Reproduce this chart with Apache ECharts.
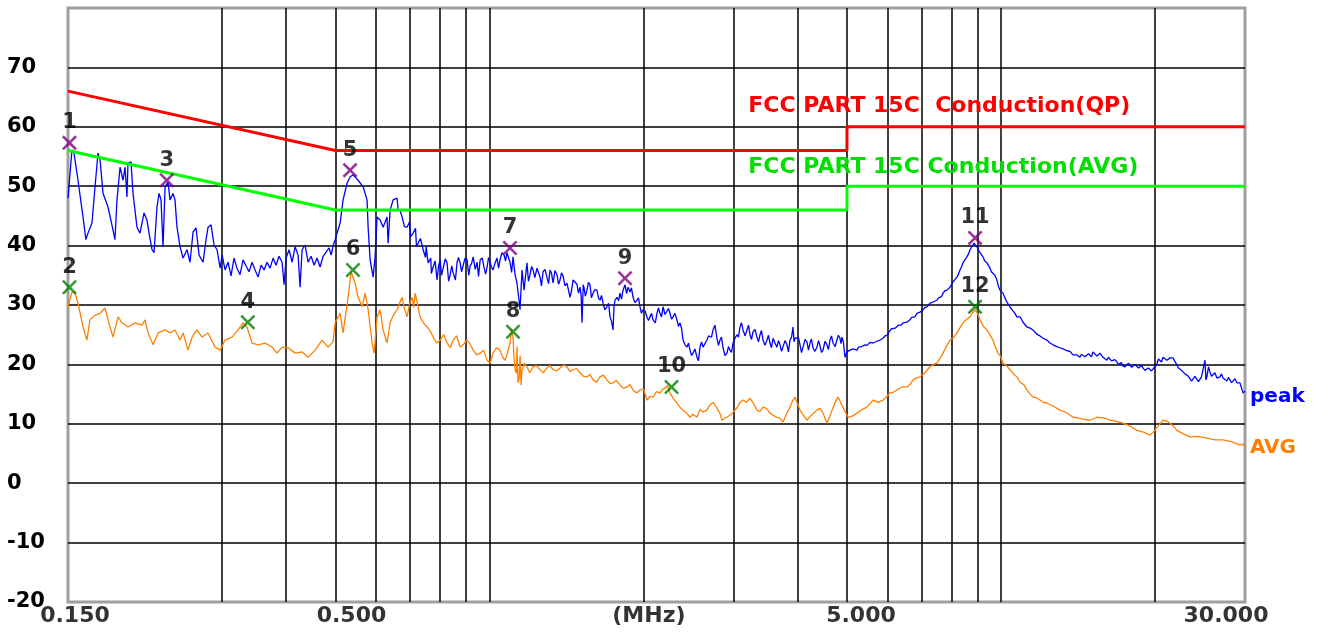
<!DOCTYPE html>
<html><head><meta charset="utf-8">
<script src="https://cdn.jsdelivr.net/npm/echarts@6/dist/echarts.min.js"></script>
<style>html,body{margin:0;padding:0;background:#fff}#c{width:1319px;height:637px}</style>
</head><body><div id="c"></div>
<script>
// ---- data (frequency in MHz, level in dBuV) ----
const peakReadA = [
[0.150,48.0],[0.1527,56.1],[0.1541,55.6],[0.1569,51.0],[0.1605,44.8],[0.1626,41.0],[0.1641,42.1],[0.1671,43.8],
[0.1694,49.9],[0.1717,55.6],[0.1733,54.4],[0.1756,48.8],[0.1796,46.5],[0.1837,42.6],[0.1853,41.0],[0.1870,47.7],
[0.1896,53.2],[0.1922,51.0],[0.1939,53.2],[0.1956,48.2],[0.1965,53.9],[0.1992,54.1],[0.2010,48.8],[0.2046,43.1],
[0.2074,42.1],[0.2112,45.5],[0.2140,44.3],[0.2160,42.1],[0.2190,39.3],[0.2210,38.8],[0.2239,46.5],[0.2260,48.8],
[0.2280,47.7],[0.2301,39.8],[0.2322,49.9],[0.2353,50.7],[0.2374,47.7],[0.2407,48.8],[0.2428,47.7],[0.2450,43.1],
[0.2484,39.8],[0.2518,37.9],[0.2563,39.3],[0.2598,37.2],[0.2634,42.3],[0.2669,43.0],[0.2706,38.4],[0.2755,37.2],
[0.2792,41.0],[0.2818,43.1],[0.2856,43.5],[0.2895,40.1],[0.2934,39.3],[0.2975,36.2],[0.3002,38.4],[0.3042,35.9],
[0.3083,37.2],[0.3125,34.9],[0.3167,37.9],[0.3209,36.2],[0.3254,35.1],[0.3299,37.6],[0.3342,36.6],[0.3389,35.6],
[0.3435,37.2],[0.3482,35.9],[0.3529,34.7],[0.3577,36.7],[0.3626,35.9],[0.3674,37.2],[0.3725,36.2],[0.3776,37.9],
[0.3826,36.7],[0.3879,38.2],[0.3932,37.2],[0.3968,33.4],[0.4003,37.9],[0.4058,39.3],[0.4114,37.2],[0.4169,39.8],
[0.4226,38.4],[0.4264,33.0],[0.4303,39.3],[0.4361,40.1],[0.4421,37.2],[0.4481,38.2],[0.4542,36.7],[0.4602,37.9],
[0.4666,36.4],[0.4729,38.2],[0.4792,38.9],[0.4859,39.6],[0.4903,38.4],[0.4947,39.9],[0.4992,41.0],[0.5035,41.0],
[0.5106,43.8],[0.5175,47.7],[0.5267,50.5],[0.5341,51.6],[0.5414,51.9],[0.5537,51.0],[0.5663,49.9],[0.5764,47.7],
[0.5792,43.1],[0.5844,37.6],[0.5924,34.7],[0.5977,38.1],[0.6030,44.8],[0.6114,44.3],[0.6197,43.1],[0.6307,44.8],
[0.6338,40.4],[0.6395,46.0],[0.6482,47.7],[0.6598,48.0],[0.6630,46.0],[0.6751,44.8],[0.6902,43.1],[0.7094,42.1],
[0.7255,40.4],[0.7420,39.3],[0.7589,37.1],[0.7762,36.4],[0.7900,34.2],[0.8010,37.6],[0.8120,36.2],[0.8264,37.1],
[0.8380,35.1],[0.8494,35.4],[0.8645,37.2],[0.8765,37.1],[0.8885,35.9],[0.9043,37.6],[0.9169,36.6],[0.9294,38.1],
[0.9460,37.2],[0.9592,37.6],[0.9766,36.2],[0.9896,36.4],[1.0027,37.2],[1.0163,35.9],[1.0348,37.9],[1.0489,37.6],
[1.068,38.4],[1.0821,38.8],[1.0971,37.2],[1.1121,38.1],[1.1221,35.1],[1.1319,33.7],[1.1425,30.8],[1.1476,29.2],
[1.1581,35.9],[1.1686,32.5],[1.1840,37.1],[1.2005,35.1],[1.2169,35.9],[1.2386,36.2],[1.2558,34.7],[1.2730,35.6],
[1.2956,34.7],[1.3136,35.9],[1.3316,33.7],[1.3553,35.1],[1.3741,34.2],[1.3928,34.9],[1.4176,33.7],[1.4373,31.3],
[1.4570,34.2],[1.4829,33.5],[1.5035,33.0],[1.5172,27.0],[1.5309,32.9],[1.5512,32.5],[1.5727,33.4],[1.5942,32.0],
[1.6226,32.5],[1.6452,30.8],[1.6677,30.3],[1.6973,29.7],[1.7208,28.0],[1.7444,25.8],[1.7601,30.8],[1.7754,31.3],
[1.8001,32.0],[1.8247,32.5],[1.8411,33.4],[1.8662,33.0],[1.8830,32.2],[1.9087,31.3],[1.9427,30.8],[1.9697,29.7],
[1.9966,29.2],[2.0321,28.0],[2.0604,28.0],[2.0886,27.5],[2.1257,28.6],[2.1552,28.6],[2.1847,29.7],[2.2236,28.6],
[2.2544,28.6],[2.2852,28.0],[2.3259,27.5],[2.3582,27.0],[2.3905,24.1],[2.4330,22.9],[2.4668,22.4],[2.5005,21.9],
[2.5450,21.2],[2.5803,22.9],[2.6156,22.9],[2.6621,24.1],[2.6991,25.0],[2.7360,25.8],[2.7847,24.4],[2.8234,24.1],
[2.8620,22.8],[2.9129,21.9],[2.9533,22.4],[2.9937,23.6],[3.0470,25.0],[3.0894,26.3],[3.1316,25.8],[3.1873,25.8],
[3.2316,25.0],[3.2758,25.5],[3.3341,24.6],[3.3804,25.0],[3.4266,24.1],[3.4876,24.1],[3.5360,23.6],[3.5844,24.4],
[3.6482,22.9],[3.6988,23.3],[3.7494,22.4],[3.8161,23.3],[3.8691,24.1],[3.9220,26.3],[3.9573,24.4],[3.9918,24.1],
[4.0472,23.3],[4.1026,22.9],[4.1756,23.8],[4.2336,23.6],[4.2915,22.8],[4.3678,22.9],[4.4285,23.1],[4.4891,22.4],
[4.5690,23.3],[4.6323,24.1],[4.6957,23.6],[4.7792,24.1],[4.8456,24.4],[4.8898,24.6],[4.9561,21.2],[4.999,22.1],
[5.0687,22.4],[5.1380,22.6],[5.2295,22.4],[5.3021,22.8],[5.3746,23.2],[5.4702,23.2],[5.5462,23.7],[5.6220,23.6],
[5.7221,23.9],[5.8015,24.1],[5.8809,24.4],[5.9855,24.9],[6.0686,25.6],[6.1516,25.9],[6.2611,26.3],[6.3480,26.6],
[6.4348,27.0],[6.5493,27.1],[6.6403,27.5],[6.7311,28.0],[6.8509,28.6],[6.9461,28.8],[7.0411,29.2],[7.1664,29.7],
[7.2658,30.3],[7.3652,30.5],[7.4962,30.8],[7.6004,31.3],[7.7043,32.0],[7.8414,32.5],[7.9503,33.0],[8.0591,33.9],
[8.2025,34.7],[8.3163,35.9],[8.4300,37.1],[8.5800,38.1],[8.6992,39.3],[8.8578,40.4],[8.9751,39.8],[9.0997,38.8],
[9.2241,38.1],[9.3883,37.1],[9.5187,36.2],[9.6489,35.4],[9.8206,34.2],[9.9571,32.5],[10.093,32.0],[10.273,30.5],
[10.415,29.7],[10.557,29.0],[10.745,28.0],[10.895,28.0],[11.044,27.1],[11.241,26.3],[11.397,26.1],[11.553,25.8],
[11.758,25.1],[11.921,24.8],[12.084,24.4],[12.299,24.1],[12.470,23.6],[12.641,23.3],[12.866,23.0],[13.044,22.8],
[13.223,22.6],[13.458,22.3],[13.645,22.2],[13.831,21.6],[14.077,21.6],[14.273,21.2],[14.469,21.6],[14.726,21.2],
[14.930,21.6],[15.134,22.1],[15.404,21.4],[15.617,21.9],[15.831,21.2],[16.113,20.7],[16.337,21.1],[16.560,20.7],
[16.855,20.4],[17.088,20.2],[17.322,19.7],[17.630,19.9],[17.875,20.1],[18.120,19.6],[18.442,19.9],[18.699,19.6],
[18.955,19.4],[19.292,19.1],[19.559,19.2],[19.827,19.1],[20.180,20.1],[20.460,20.7],[20.739,21.2],[21.108,20.7],
[21.402,21.1],[21.695,21.1],[22.081,19.9],[22.387,19.6],[22.693,18.7],[23.097,18.2],[23.418,17.7],[23.738,17.4],
[24.161,17.7],[24.495,17.4],[24.831,17.7],[25.054,20.7],[25.272,17.9],[25.624,18.7],[25.974,18.2],[26.436,17.7],
[26.803,17.9],[27.170,17.7],[27.653,17.2],[28.037,17.4],[28.421,17.2],[28.926,16.9],[29.328,16.9],[29.729,15.2],
[30.0,15.5]
];
// finer ripple of the peak sweep, read between the points above
const peakReadB = [
[0.6690,45.9],[0.6820,43.2],[0.6980,44.0],[0.7010,41.5],[0.7170,42.9],[0.7200,39.8],[0.7330,41.2],[0.7500,38.0],
[0.7520,39.9],[0.7680,37.9],[0.7700,35.3],[0.7830,37.4],[0.7950,36.5],[0.8060,35.0],[0.8200,37.8],[0.8320,34.0],
[0.8440,36.6],[0.8580,34.2],[0.8700,38.0],[0.8820,35.6],[0.8960,37.9],[0.9110,35.0],[0.9230,37.0],[0.9380,36.0],
[0.9520,34.8],[0.9680,37.9],[0.9830,35.2],[0.9960,38.0],[1.0090,36.4],[1.0250,37.0],[1.0420,36.2],[1.0580,38.8],
[1.0750,37.4],[1.0900,39.0],[1.1050,35.5],[1.1170,38.3],
[1.1920,34.0],[1.2090,36.5],[1.2270,34.6],[1.2470,36.3],[1.2640,33.2],[1.2840,36.0],[1.3050,33.6],[1.3220,35.4],
[1.3430,35.8],[1.3650,33.5],[1.3830,35.4],[1.4050,33.2],[1.4270,33.9],[1.4470,32.4],[1.4700,34.5],[1.4930,32.0],
[1.5110,31.6],[1.5250,33.4],[1.5400,31.5],[1.5620,33.8],[1.5830,31.2],[1.6080,32.6],[1.6340,31.2],[1.6560,31.6],
[1.6820,29.2],[1.7100,30.3],[1.7330,27.2],[1.7520,29.8],[1.7880,30.7],[1.8120,31.0],[1.8540,31.9],[1.8950,32.9],
[1.9250,30.4],[1.9560,31.2],[1.9820,28.6],[2.0150,29.0],[2.0460,27.4],[2.0750,28.6],[2.1100,27.0],[2.1400,29.5],
[2.1700,28.0],[2.2040,28.4],[2.2390,29.4],[2.2700,27.6],[2.3050,28.6],[2.3420,26.4],[2.3750,26.0],
[2.4120,23.3],[2.4500,23.6],[2.4840,21.5],[2.5220,22.6],[2.5620,20.6],[2.5980,23.8],[2.6380,23.2],[2.6800,24.8],
[2.7170,24.6],[2.7600,26.6],[2.8040,23.2],[2.8420,24.6],[2.8870,21.5],[2.9330,23.0],[2.9730,22.0],[3.0200,24.4],
[3.0680,24.6],[3.1100,27.0],[3.1600,24.8],[3.2100,26.6],[3.2540,24.2],[3.3050,25.9],[3.3570,23.8],[3.4030,25.7],
[3.4570,23.2],[3.5120,24.9],[3.5600,22.8],[3.6160,23.6],[3.6730,24.0],[3.7240,22.2],[3.7830,24.0],[3.8420,22.1],
[3.8960,24.6],[3.9400,23.8],[4.0200,24.5],[4.0750,22.0],[4.1400,24.2],[4.2050,22.4],[4.2600,24.3],[4.3300,22.2],
[4.4000,24.0],[4.4600,22.0],[4.5300,23.9],[4.6000,22.5],[4.6640,24.8],[4.7400,23.0],[4.8100,24.9],[4.8680,23.5],
[4.9200,23.8],
[5.1030,22.3],[5.1830,22.8],[5.2650,22.9],[5.3380,23.0],[5.4200,23.3],[5.5080,23.4],[5.5840,23.8],[5.6700,23.6],
[5.7600,24.0],[5.8400,24.2],[5.9300,24.8],[6.0300,25.4],[6.1100,26.0],[6.2100,26.1],[6.3000,26.6],[6.3900,26.6],
[6.4900,27.2],[6.5900,27.1],[6.6900,27.9],[6.7900,28.0],[6.9000,28.8],[6.9900,28.8],[7.1000,29.6],[7.2200,29.8],
[7.3100,30.5],[7.4300,30.5],[7.5500,31.2],[7.6500,31.4],[7.7700,32.4],[7.9000,32.6],[8.0000,33.4],[8.1300,34.0],
[8.2600,35.2],[8.3700,36.4],[8.5000,37.6],[8.6400,38.6],
[9.1600,38.6],[9.3000,37.4],[9.4500,36.9],[9.5800,35.6],[9.7300,35.0],[9.8900,33.1],
[10.020,32.3],[10.180,31.2],[10.340,30.2],[10.490,29.3],[10.650,28.6],[10.820,28.0],[10.970,27.6],[11.140,26.8],
[11.320,26.2],[11.480,25.9],[11.650,25.4],[11.840,25.0],[12.000,24.6],[12.190,24.2],[12.380,23.9],[12.550,23.4],
[12.750,23.1],[12.950,22.9],[13.130,22.5],[13.340,22.4],[13.550,22.5],[13.740,21.9],[13.950,21.9],[14.170,21.3],
[14.370,21.7],[14.600,21.3],[14.830,21.8],[15.030,21.3],[15.270,22.0],[15.510,21.3],[15.720,21.9],[15.970,21.0],
[16.220,21.2],[16.450,20.6],[16.700,20.8],[16.970,20.0],[17.200,20.3],[17.480,19.6],[17.750,20.2],[18.000,19.5],
[18.280,20.0],[18.570,19.4],[18.830,19.8],[19.120,19.0],[19.420,19.4],[19.690,18.9],[20.000,19.6],
[20.320,20.9],[20.600,20.4],[20.920,21.4],[21.250,20.8],[21.550,21.4],[21.880,20.5],[22.230,19.4],[22.540,19.0],
[22.900,18.4],[23.250,18.0],[23.580,17.2],[23.950,18.0],[24.330,17.1],[24.660,17.9],[25.160,17.4],[25.450,19.6],
[25.800,18.0],[26.200,18.6],[26.620,17.4],[26.990,18.4],[27.410,17.4],[27.840,17.8],[28.230,16.9],[28.670,17.6],
[29.130,16.6],[29.530,17.2]
];
const avgReadA = [
[0.150,29.7],[0.1527,32.2],[0.1548,32.0],[0.1569,30.3],[0.1605,26.3],[0.1633,24.1],[0.1656,27.5],[0.1694,28.3],
[0.1733,28.6],[0.1772,29.5],[0.1796,27.5],[0.1837,24.6],[0.1879,28.0],[0.1913,27.0],[0.1965,26.3],[0.2028,27.0],
[0.2093,26.6],[0.2122,27.5],[0.2151,25.3],[0.2200,23.3],[0.2250,25.3],[0.2322,25.8],[0.2374,25.3],[0.2428,25.8],
[0.2484,24.1],[0.2518,25.3],[0.2575,22.4],[0.2622,24.6],[0.2681,25.8],[0.2743,24.6],[0.2818,25.3],[0.2908,22.9],
[0.2975,22.4],[0.3042,24.1],[0.3139,24.6],[0.3225,25.8],[0.3299,27.0],[0.3357,26.3],[0.3435,23.6],[0.3529,23.3],
[0.3642,23.6],[0.3759,22.9],[0.3843,21.9],[0.3932,22.9],[0.4040,22.8],[0.4169,21.9],[0.4303,22.1],[0.4421,21.2],
[0.4562,22.4],[0.4708,24.1],[0.4837,22.9],[0.4947,23.8],[0.4992,27.0],[0.5106,28.6],[0.5175,25.3],[0.5293,31.3],
[0.5365,35.6],[0.5462,33.7],[0.5537,31.3],[0.5638,29.7],[0.5714,32.0],[0.5792,29.2],[0.5897,23.6],[0.5951,21.9],
[0.6030,28.0],[0.6114,29.2],[0.6197,25.8],[0.6307,23.6],[0.6395,27.0],[0.6598,29.2],[0.6751,31.3],[0.6902,28.0],
[0.7062,31.3],[0.7158,32.0],[0.7320,28.0],[0.7553,26.3],[0.7762,24.6],[0.8010,24.1],[0.8264,23.6],[0.8494,24.1],
[0.8765,22.9],[0.9043,24.1],[0.9294,22.4],[0.9592,21.9],[0.9896,20.7],[1.0163,21.9],[1.0489,22.4],[1.0728,20.7],
[1.0971,23.6],[1.1121,24.6],[1.1221,19.1],[1.1374,16.9],[1.1581,19.1],[1.1840,19.6],[1.2169,19.6],[1.2558,19.1],
[1.2956,19.4],[1.3316,19.1],[1.3741,19.4],[1.4176,19.6],[1.4570,19.1],[1.5035,18.6],[1.5512,17.9],[1.5942,17.4],
[1.6452,17.9],[1.6973,17.4],[1.7444,16.9],[1.8001,16.5],[1.8571,16.2],[1.9087,15.7],[1.9697,15.7],[2.0321,14.0],
[2.0886,14.5],[2.1552,15.2],[2.2044,16.0],[2.2544,15.2],[2.3259,13.5],[2.3905,12.3],[2.4668,11.1],[2.5450,11.1],
[2.6156,12.0],[2.6991,13.2],[2.7847,12.7],[2.8491,10.6],[2.9129,11.1],[3.0470,12.7],[3.1316,14.0],[3.2316,14.3],
[3.3341,12.3],[3.4266,12.8],[3.5360,11.8],[3.6482,11.1],[3.7494,10.3],[3.8691,12.8],[3.9573,14.5],[4.0472,12.3],
[4.1756,10.6],[4.3678,12.3],[4.4891,11.8],[4.5690,10.1],[4.6746,12.3],[4.8024,14.5],[4.9119,12.8],[5.0235,11.1],
[5.2295,11.8],[5.4702,12.8],[5.6220,14.0],[5.8809,14.0],[6.0686,15.2],[6.2611,15.7],[6.5493,16.2],[6.7311,17.4],
[6.9461,17.9],[7.2658,19.6],[7.4962,20.2],[7.7043,21.9],[7.9503,24.1],[8.2025,25.3],[8.4300,27.0],[8.6992,28.0],
[8.8958,29.2],[9.0997,27.5],[9.3883,25.8],[9.6489,24.1],[9.8683,21.9],[10.093,20.2],[10.415,19.1],[10.745,17.9],
[11.241,15.7],[11.553,14.5],[11.921,14.0],[12.299,13.5],[13.044,12.3],[13.831,11.1],[14.469,10.8],[15.404,11.1],
[16.337,10.6],[17.322,10.1],[18.442,8.9],[19.559,8.1],[20.180,9.4],[20.739,10.6],[21.402,10.1],[22.081,8.9],
[23.418,7.8],[25.272,7.6],[27.170,7.3],[29.328,6.4],[30.0,6.1]
];
// finer ripple of the average sweep
const avgReadB = [
[0.6250,26.0],[0.6500,28.4],[0.6680,30.4],[0.6820,29.4],[0.6980,30.2],[0.7110,29.6],[0.7240,30.0],[0.7430,27.0],
[0.7660,25.6],[0.7890,23.6],[0.8140,25.0],[0.8380,22.8],[0.8630,24.8],[0.8900,23.4],[0.9170,23.4],[0.9440,21.6],
[0.9740,22.4],[1.0030,20.2],[1.0320,22.8],[1.0610,21.2],[1.0850,22.0],[1.1050,26.0],[1.1170,21.0],[1.1290,18.5],
[1.1320,23.0],[1.1430,17.5],[1.1480,21.5],[1.1530,16.5],[1.1700,20.2],[1.1990,18.6],[1.2350,19.8],[1.2750,18.6],
[1.3130,19.8],[1.3520,18.9],[1.3960,19.9],[1.4380,18.8],[1.4800,19.3],[1.5270,18.0],[1.5730,18.3],[1.6200,17.0],
[1.6700,18.2],[1.7200,16.8],[1.7700,17.3],[1.8290,16.0],[1.8830,16.6],[1.9400,15.2],[2.0000,15.9],[2.0600,14.6],
[2.1200,15.4],[2.1800,15.8],[2.2300,16.4],[2.2900,14.2],[2.3580,12.8],[2.4300,11.8],[2.5000,11.6],[2.5800,12.4],
[2.6600,12.3],[2.7400,13.6],[2.8200,11.8],[2.8800,10.9],[2.9800,11.7],[3.0900,13.6],[3.1800,13.6],[3.2800,13.5],
[3.3800,12.1],[3.4800,12.6],[3.5900,11.4],[3.7000,10.9],[3.8100,11.7],[3.9100,13.8],[4.0000,13.4],[4.1100,11.4],
[4.2300,11.2],[4.4300,12.6],[4.5300,10.9],[4.6200,11.0],[4.7400,13.6],[4.8600,13.6],[4.9600,12.0],[5.1200,11.3],
[5.3500,12.4],[5.5500,13.4],[5.7500,13.6],[5.9800,14.6],[6.1600,15.3],[6.4000,16.2],[6.6400,16.6],[6.8300,17.7],
[7.1000,18.6],[7.3800,20.0],[7.6000,21.0],[7.8200,23.0],[8.0800,24.5],[8.3200,26.2],[8.5700,27.6],[8.8000,28.7],
[9.0000,28.6],[9.2400,26.4],[9.5100,25.0],[9.7600,22.8],[9.9800,21.4],[10.250,19.8],[10.580,18.4],[10.900,17.0],
[11.080,16.6],[11.400,15.0],[11.740,14.4],[12.100,13.6],[12.650,13.0],[13.430,11.9],[14.140,11.0],[14.900,10.6],
[15.900,11.0],[16.800,10.4],[17.900,9.6],[19.000,8.6],[19.850,8.6],[20.460,10.0],[21.060,10.5],[21.730,9.6],
[22.730,8.3],[24.300,7.9],[26.200,7.3],[28.200,7.0],[29.700,6.6]
];
const qpLimit  = [[0.15,66],[0.5,56],[5,56],[5,60],[30,60]];
const avgLimit = [[0.15,56],[0.5,46],[5,46],[5,50],[30,50]];
const peakMarkers = [[0.151,57.3,'1'],[0.234,51.0,'3'],[0.534,52.7,'5'],[1.097,39.6,'7'],[1.841,34.5,'9'],[8.90,41.3,'11']];
const avgMarkers  = [[0.151,33.0,'2'],[0.337,27.1,'4'],[0.541,35.9,'6'],[1.112,25.5,'8'],[2.27,16.2,'10'],[8.90,29.7,'12']];
const xGridValues = [0.3,0.4,0.5,0.6,0.7,0.8,0.9,1,2,3,4,5,6,7,8,9,10,20];
const xTickValues = [0.15, 0.5, 2.05, 5, 30];
const xTickLabels = ['0.150', '0.500', '(MHz)', '5.000', '30.000'];
const limitNames = ['FCC PART 15C  Conduction(QP)', 'FCC PART 15C Conduction(AVG)'];
const limitNameAnchors = [[3.20, 63.5], [3.20, 53.2]];

// ---- chart ----
const byFreq = (a, b) => a[0] - b[0];
const peakTrace = peakReadA.concat(peakReadB).sort(byFreq);
const avgTrace = avgReadA.concat(avgReadB).sort(byFreq);

const FONT = "'DejaVu Sans', 'Liberation Sans', sans-serif";
const chart = echarts.init(document.getElementById('c'), null, {renderer: 'canvas'});
const X_SYM = 'path://M0,12 L12,0 L50,38 L88,0 L100,12 L62,50 L100,88 L88,100 L50,62 L12,100 L0,88 L38,50 Z';
const xLabelShift = [7, 16, 0, 14, -19];

chart.setOption({
  animation: false,
  backgroundColor: '#ffffff',
  grid: {left: 68, top: 8, right: 74, bottom: 35, show: true, borderColor: '#a0a0a0', borderWidth: 3, backgroundColor: '#fff'},
  xAxis: {type: 'log', logBase: 10, min: 0.15, max: 30,
    axisLine: {show: false}, axisTick: {show: false}, axisLabel: {show: false}, splitLine: {show: false}, minorSplitLine:{show:false}},
  yAxis: {type: 'value', min: -20, max: 80, interval: 10,
    axisLine: {show: false}, axisTick: {show: false},
    axisLabel: {show: true, align: 'left', margin: 61, color: '#000', fontFamily: FONT, fontWeight: 'bold', fontSize: 21,
      padding: [0, 0, 5, 0], formatter: v => (v >= 80 ? '' : String(v))},
    splitLine: {show: true, showMinLine: false, showMaxLine: false, lineStyle: {color: '#000', width: 1.5}}},
  series: [
    {name: 'grid', type: 'line', data: [], silent: true,
      markLine: {silent: true, z: 1, symbol: 'none', label: {show: false},
        lineStyle: {color: '#000', width: 1.5, type: 'solid'},
        data: xGridValues.map(v => ({xAxis: v}))}},
    {name: 'AVG', type: 'line', data: avgTrace, showSymbol: false, symbol: 'none', z: 3,
      lineStyle: {color: '#ff8000', width: 1.3}, itemStyle: {color: '#ff8000'},
      endLabel: {show: true, formatter: 'AVG', color: '#ff8000', fontFamily: FONT, fontWeight: 'bold', fontSize: 20, distance: 5, offset: [0, 1]}},
    {name: 'peak', type: 'line', data: peakTrace, showSymbol: false, symbol: 'none', z: 4,
      lineStyle: {color: '#0000ff', width: 1.3}, itemStyle: {color: '#0000ff'},
      endLabel: {show: true, formatter: 'peak', color: '#0000ff', fontFamily: FONT, fontWeight: 'bold', fontSize: 20, distance: 5, offset: [0, 6]}},
    {name: 'QP limit', type: 'line', data: qpLimit, showSymbol: false, symbol: 'none', z: 5,
      lineStyle: {color: '#ff0000', width: 3},
      markPoint: {symbol: 'circle', symbolSize: 1, itemStyle: {color: 'transparent'}, silent: true,
        label: {show: true, position: 'right', distance: 0, color: '#ff0000', fontFamily: FONT, fontWeight: 'bold', fontSize: 22, formatter: limitNames[0]},
        data: [{coord: limitNameAnchors[0]}]}},
    {name: 'AVG limit', type: 'line', data: avgLimit, showSymbol: false, symbol: 'none', z: 5,
      lineStyle: {color: '#00ff00', width: 3},
      markPoint: {symbol: 'circle', symbolSize: 1, itemStyle: {color: 'transparent'}, silent: true,
        label: {show: true, position: 'right', distance: 0, color: '#00e000', fontFamily: FONT, fontWeight: 'bold', fontSize: 22, formatter: limitNames[1]},
        data: [{coord: limitNameAnchors[1]}]}},
    {name: 'peak markers', type: 'scatter', data: peakMarkers, symbol: X_SYM, symbolSize: 15, z: 6,
      itemStyle: {color: '#800080'},
      label: {show: true, position: 'top', distance: 2, color: '#000', fontFamily: FONT, fontWeight: 'bold', fontSize: 21, formatter: p => p.data[2]}},
    {name: 'avg markers', type: 'scatter', data: avgMarkers, symbol: X_SYM, symbolSize: 15, z: 6,
      itemStyle: {color: '#008000'},
      label: {show: true, position: 'top', distance: 2, color: '#000', fontFamily: FONT, fontWeight: 'bold', fontSize: 21, formatter: p => p.data[2]}},
    {name: 'x labels', type: 'scatter', silent: true, clip: false, symbolSize: 1, itemStyle: {color: 'transparent'}, z: 6,
      data: xTickValues.map((v, i) => ({value: [v, -20], label: {offset: [xLabelShift[i], 0]}})),
      label: {show: true, position: 'bottom', distance: 3, color: '#000', fontFamily: FONT, fontWeight: 'bold', fontSize: 22,
        formatter: p => xTickLabels[p.dataIndex]}}
  ]
});
</script></body></html>
